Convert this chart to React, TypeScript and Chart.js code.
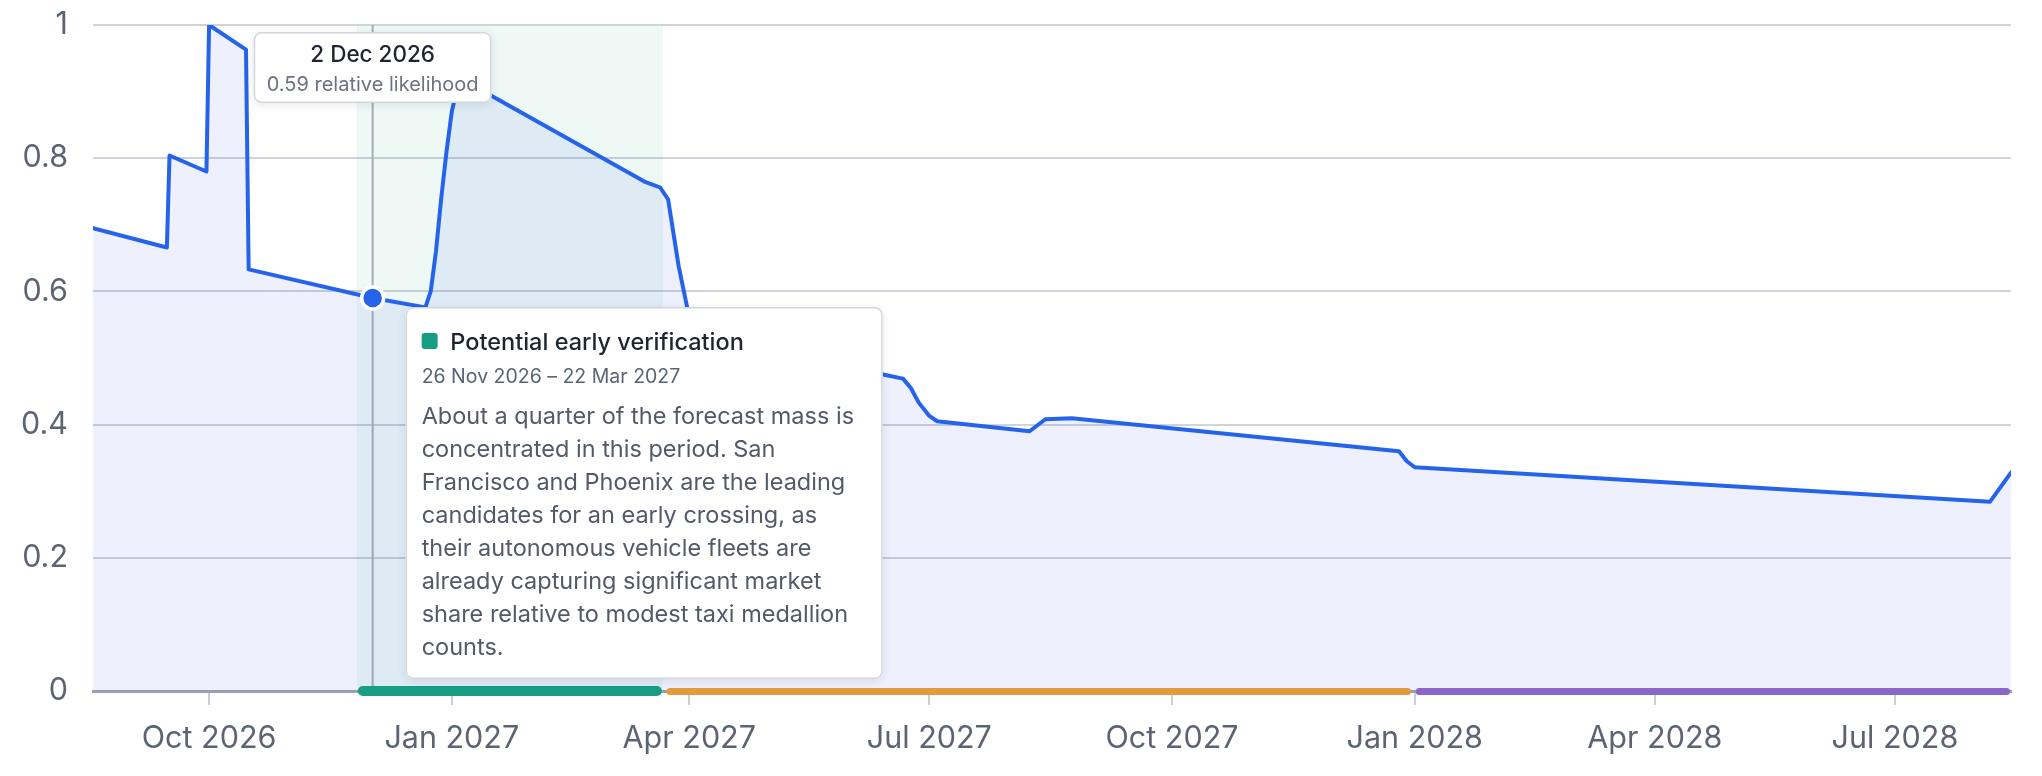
import React, { useEffect, useRef } from 'react';
import { Chart, registerables } from 'chart.js';

Chart.register(...registerables);

// ---------- data ----------
const pointDates = [
  '2026-08-18', '2026-09-15', '2026-09-16', '2026-09-30', '2026-10-01', '2026-10-15', '2026-10-16',
  '2026-12-02', '2026-12-22', '2026-12-24', '2026-12-26', '2026-12-28', '2026-12-30', '2027-01-01',
  '2027-01-03', '2027-01-05', '2027-03-15', '2027-03-21', '2027-03-24', '2027-03-28', '2027-03-31',
  '2027-04-03', '2027-04-07', '2027-06-13', '2027-06-21', '2027-06-24', '2027-06-27', '2027-07-01',
  '2027-07-04', '2027-08-08', '2027-08-11', '2027-08-14', '2027-08-24', '2027-12-26', '2027-12-29',
  '2028-01-01', '2028-08-06', '2028-08-14',
];
const likelihood = [
  0.695, 0.666, 0.804, 0.78, 1.0, 0.963, 0.633,
  0.59, 0.576, 0.6, 0.66, 0.74, 0.81, 0.87,
  0.905, 0.918, 0.765, 0.756, 0.738, 0.6375, 0.58,
  0.53, 0.502, 0.4755, 0.469, 0.455, 0.433, 0.413,
  0.405, 0.39, 0.399, 0.408, 0.4095, 0.36, 0.345,
  0.336, 0.284, 0.328,
];

const axisStart = '2026-08-18';
const axisEnd = '2028-08-14';
const tickDates = ['2026-10-01', '2027-01-01', '2027-04-01', '2027-07-01', '2027-10-01', '2028-01-01', '2028-04-01', '2028-07-01'];
const tickLabels = ['Oct 2026', 'Jan 2027', 'Apr 2027', 'Jul 2027', 'Oct 2027', 'Jan 2028', 'Apr 2028', 'Jul 2028'];
const yTickValues = [0, 0.2, 0.4, 0.6, 0.8, 1];

const periodStarts = ['2026-11-26', '2027-03-23', '2028-01-01'];
const periodEnds = ['2027-03-22', '2027-12-31', '2028-08-14'];
const activePeriod = 0;
const activePeriodTitle = 'Potential early verification';
const activePeriodText = [
  'About a quarter of the forecast mass is',
  'concentrated in this period. San',
  'Francisco and Phoenix are the leading',
  'candidates for an early crossing, as',
  'their autonomous vehicle fleets are',
  'already capturing significant market',
  'share relative to modest taxi medallion',
  'counts.',
];
const hoverDate = '2026-12-02';
const valueUnit = 'relative likelihood';

// ---------- styles ----------
const FONT = 'Inter, "Noto Sans", "DejaVu Sans", sans-serif';
const LINE_BLUE = '#2563eb';
const PERIOD_COLORS = ['#179e82', '#e19a3c', '#8b65c8'];
const TICK_COLOR = '#5c6473';
const TICK_SIZE = 30.5;

const MONTHS = ['Jan', 'Feb', 'Mar', 'Apr', 'May', 'Jun', 'Jul', 'Aug', 'Sep', 'Oct', 'Nov', 'Dec'];
const toTime = (s: string) => {
  const [y, m, d] = s.split('-').map(Number);
  return Date.UTC(y, m - 1, d);
};
const fmtDate = (s: string) => {
  const [y, m, d] = s.split('-').map(Number);
  return `${d} ${MONTHS[m - 1]} ${y}`;
};

const hoverIndex = pointDates.indexOf(hoverDate);

function drawBox(ctx: CanvasRenderingContext2D, x: number, y: number, w: number, h: number) {
  ctx.save();
  ctx.shadowColor = 'rgba(15,23,42,0.10)';
  ctx.shadowBlur = 8;
  ctx.shadowOffsetY = 2;
  ctx.beginPath();
  (ctx as any).roundRect(x, y, w, h, 7);
  ctx.fillStyle = '#ffffff';
  ctx.fill();
  ctx.restore();
  ctx.save();
  ctx.beginPath();
  (ctx as any).roundRect(x + 0.75, y + 0.75, w - 1.5, h - 1.5, 7);
  ctx.strokeStyle = '#d3d6dc';
  ctx.lineWidth = 1.5;
  ctx.stroke();
  ctx.restore();
}

const overlayPlugin = {
  id: 'overlayPlugin',
  beforeDatasetsDraw(chart: any) {
    const { ctx, chartArea: a, scales } = chart;
    const xs = scales.x;
    const x1 = xs.getPixelForValue(toTime(periodStarts[activePeriod]));
    const x2 = xs.getPixelForValue(toTime(periodEnds[activePeriod]));
    ctx.save();
    ctx.fillStyle = 'rgba(16,150,120,0.07)';
    ctx.fillRect(x1, a.top + 1, x2 - x1, a.bottom - a.top - 1);
    const hx = xs.getPixelForValue(toTime(hoverDate));
    ctx.strokeStyle = '#a6adb8';
    ctx.lineWidth = 2;
    ctx.beginPath();
    ctx.moveTo(hx, a.top);
    ctx.lineTo(hx, a.bottom);
    ctx.stroke();
    ctx.restore();
  },
  afterDatasetsDraw(chart: any) {
    const { ctx, scales } = chart;
    const xs = scales.x;
    const y0 = scales.y.getPixelForValue(0);
    ctx.save();
    periodStarts.forEach((s, i) => {
      const a = xs.getPixelForValue(toTime(s)) + 1;
      const b = xs.getPixelForValue(toTime(periodEnds[i])) - 1;
      const h = i === activePeriod ? 10 : 7;
      ctx.beginPath();
      ctx.fillStyle = PERIOD_COLORS[i];
      ctx.roundRect(a, y0 - h / 2 + (i === activePeriod ? 0 : 0.5), b - a, h, h / 2);
      ctx.fill();
    });
    ctx.restore();
  },
  afterDraw(chart: any) {
    const { ctx, chartArea: area, scales } = chart;
    const hx = scales.x.getPixelForValue(toTime(hoverDate));
    const hy = scales.y.getPixelForValue(likelihood[hoverIndex]);

    // hover tooltip
    const t1 = fmtDate(hoverDate);
    const t2 = `${likelihood[hoverIndex].toFixed(2)} ${valueUnit}`;
    const f1 = `500 22.5px ${FONT}`;
    const f2 = `20px ${FONT}`;
    ctx.save();
    ctx.font = f1;
    const w1 = ctx.measureText(t1).width;
    ctx.font = f2;
    const w2 = ctx.measureText(t2).width;
    const bw = Math.max(w1, w2) + 26;
    const bx = hx - bw / 2;
    const by = area.top + 7;
    drawBox(ctx, bx, by, bw, 71);
    ctx.textAlign = 'center';
    ctx.textBaseline = 'alphabetic';
    ctx.fillStyle = '#1f2430';
    ctx.font = f1;
    ctx.fillText(t1, hx, by + 29.7);
    ctx.fillStyle = '#6b7280';
    ctx.font = f2;
    ctx.fillText(t2, hx, by + 59);
    ctx.restore();

    // period tooltip
    const px = hx + 33;
    const py = hy + 9;
    const pw = 477;
    const ph = 117 + (activePeriodText.length - 1) * 33 + 24;
    ctx.save();
    drawBox(ctx, px, py, pw, ph);
    ctx.fillStyle = PERIOD_COLORS[activePeriod];
    ctx.beginPath();
    ctx.roundRect(px + 16, py + 26, 16, 16, 3);
    ctx.fill();
    ctx.textAlign = 'left';
    ctx.textBaseline = 'alphabetic';
    ctx.fillStyle = '#1f2430';
    ctx.font = `500 23.5px ${FONT}`;
    ctx.fillText(activePeriodTitle, px + 44.7, py + 43);
    ctx.fillStyle = '#5b6472';
    ctx.font = `19.5px ${FONT}`;
    ctx.fillText(`${fmtDate(periodStarts[activePeriod])} – ${fmtDate(periodEnds[activePeriod])}`, px + 16, py + 75.7);
    ctx.fillStyle = '#525a68';
    ctx.font = `23.5px ${FONT}`;
    activePeriodText.forEach((line, i) => {
      ctx.fillText(line, px + 16, py + 117 + i * 33);
    });
    ctx.restore();
  },
};

export default function App() {
  const canvasRef = useRef<HTMLCanvasElement | null>(null);

  useEffect(() => {
    if (!canvasRef.current) return;
    const chart = new Chart(canvasRef.current, {
      type: 'line',
      data: {
        datasets: [
          {
            data: pointDates.map((d, i) => ({ x: toTime(d), y: likelihood[i] })),
            borderColor: LINE_BLUE,
            borderWidth: 4,
            backgroundColor: 'rgba(59,91,235,0.085)',
            fill: 'origin',
            tension: 0,
            borderJoinStyle: 'round',
            borderCapStyle: 'round',
            pointRadius: (c: any) => (c.dataIndex === hoverIndex ? 11 : 0),
            pointHoverRadius: (c: any) => (c.dataIndex === hoverIndex ? 11 : 0),
            pointBackgroundColor: LINE_BLUE,
            pointBorderColor: '#ffffff',
            pointBorderWidth: 3.5,
          } as any,
        ],
      },
      options: {
        animation: false,
        responsive: true,
        maintainAspectRatio: false,
        events: [],
        layout: { padding: { top: 25, right: 31, left: 0, bottom: 0 } },
        plugins: {
          legend: { display: false },
          tooltip: { enabled: false },
        },
        scales: {
          x: {
            type: 'linear',
            min: toTime(axisStart),
            max: toTime(axisEnd),
            afterBuildTicks: (scale: any) => {
              scale.ticks = tickDates.map((d) => ({ value: toTime(d) }));
            },
            afterFit: (scale: any) => {
              scale.height = 85;
              scale.paddingLeft = 0;
              scale.paddingRight = 0;
            },
            ticks: {
              autoSkip: false,
              maxRotation: 0,
              padding: 16,
              color: TICK_COLOR,
              font: { family: FONT, size: TICK_SIZE },
              callback: (_v: any, i: number) => tickLabels[i],
            },
            grid: { drawOnChartArea: false, drawTicks: true, tickLength: 14, color: '#c9ced6', lineWidth: 2 },
            border: { display: true, color: '#9ba2ad', width: 3 },
          },
          y: {
            min: 0,
            max: 1,
            afterBuildTicks: (scale: any) => {
              scale.ticks = yTickValues.map((v) => ({ value: v }));
            },
            afterFit: (scale: any) => {
              scale.width = 93;
              scale.paddingTop = 0;
              scale.paddingBottom = 0;
            },
            ticks: {
              padding: 25,
              color: TICK_COLOR,
              font: { family: FONT, size: TICK_SIZE },
              callback: (v: any) => String(+Number(v).toFixed(1)),
            },
            grid: { color: '#cfd3da', lineWidth: 2, drawTicks: false },
            border: { display: false },
          },
        },
      } as any,
      plugins: [overlayPlugin as any],
    });
    return () => chart.destroy();
  }, []);

  return (
    <div style={{ position: 'fixed', left: 0, top: 0, width: '100vw', height: '100vh', background: '#ffffff' }}>
      <canvas ref={canvasRef} />
    </div>
  );
}
